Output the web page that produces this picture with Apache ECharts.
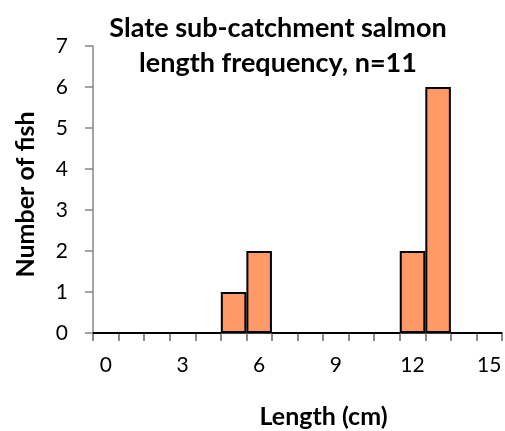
<!DOCTYPE html>
<html>
<head>
<meta charset="utf-8">
<script src="https://cdn.jsdelivr.net/npm/echarts@6/dist/echarts.min.js"></script>
<style>
  html, body { margin: 0; padding: 0; background: #fff; }
  #chart { width: 505px; height: 431px; }
</style>
</head>
<body>
<div id="chart"></div>
<script>
// length classes (cm) and fish counts
const lengthClasses = ["0", "1", "2", "3", "4", "5", "6", "7", "8", "9", "10", "11", "12", "13", "14", "15"];
const fishCounts = [0, 0, 0, 0, 0, 1, 2, 0, 0, 0, 0, 0, 2, 6, 0, 0];

const font = "Lato, 'Open Sans', sans-serif";
const chart = echarts.init(document.getElementById("chart"));

chart.setOption({
  animation: false,
  title: {
    text: "Slate sub-catchment salmon\nlength frequency, n=11",
    left: 273,
    top: 6,
    textAlign: "center",
    textStyle: {
      fontFamily: font,
      fontSize: 27,
      fontWeight: "bold",
      color: "#000",
      lineHeight: 35,
    },
  },
  grid: {
    left: 93,
    right: 3,
    top: 46,
    bottom: 98,
    outerBoundsMode: "none",
  },
  xAxis: {
    type: "category",
    data: lengthClasses,
    boundaryGap: true,
    name: "Length (cm)",
    nameLocation: "middle",
    nameGap: 71,
    nameTextStyle: {
      fontFamily: font,
      fontSize: 25,
      fontWeight: "bold",
      color: "#000",
      padding: [0, 0, 0, 52],
    },
    axisLine: { lineStyle: { color: "#000", width: 1.5 } },
    axisTick: {
      show: true,
      interval: 0,
      length: 8,
      lineStyle: { color: "#666", width: 1.5 },
    },
    axisLabel: {
      interval: 2,
      margin: 22,
      fontFamily: font,
      fontSize: 21,
      color: "#000",
    },
  },
  yAxis: {
    type: "value",
    min: 0,
    max: 7,
    interval: 1,
    name: "Number of fish",
    nameLocation: "middle",
    nameRotate: 90,
    nameGap: 55,
    nameTextStyle: {
      fontFamily: font,
      fontSize: 25,
      fontWeight: "bold",
      color: "#000",
      padding: [0, 10, 0, 0],
    },
    splitLine: { show: false },
    axisLine: { show: true, lineStyle: { color: "#868686", width: 1.5 } },
    axisTick: { show: true, length: 8, lineStyle: { color: "#868686", width: 1.5 } },
    axisLabel: {
      margin: 25,
      fontFamily: font,
      fontSize: 21,
      color: "#000",
    },
  },
  series: [
    {
      type: "bar",
      data: fishCounts,
      barWidth: "100%",
      barCategoryGap: 0,
      itemStyle: {
        color: "#FF9966",
        borderColor: "#000",
        borderWidth: 2,
      },
    },
  ],
});
</script>
</body>
</html>
